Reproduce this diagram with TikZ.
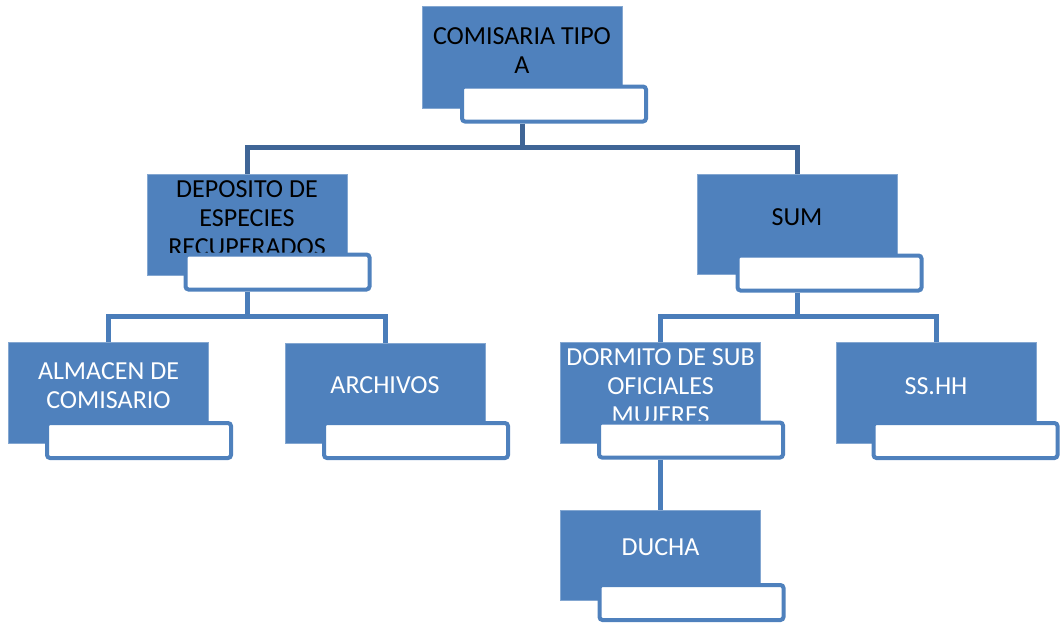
\documentclass[tikz,border=0pt]{standalone}
\usepackage{fontspec}
\setmainfont{Carlito}
\usetikzlibrary{backgrounds}
\definecolor{fillb}{HTML}{4F81BD}
\definecolor{conA}{HTML}{3F6596}
\definecolor{conB}{HTML}{4A7DBA}
\tikzset{
  rectbox/.style={fill=fillb, draw=fillb!70!white, line width=0.6pt, minimum width=200pt, inner sep=0pt},
  labbox/.style={fill=white, draw=fillb, line width=4pt, rounded corners=3pt, minimum width=184pt, minimum height=35pt, inner sep=0pt},
  txt/.style={align=center, font=\fontsize{26}{29}\selectfont, inner sep=0pt},
  conn1/.style={draw=conA, line width=5pt},
  conn2/.style={draw=conB, line width=5pt},
}
% #1 name, #2 cx, #3 cy, #4 height, #5 label cx, #6 label cy, #7 text, #8 text cy, #9 text colour
\newcommand\orgbox[9]{%
  \node[rectbox, minimum height=#4pt] (r-#1) at (#2,#3) {};
  \begin{scope}
    \clip (r-#1.north west) rectangle (r-#1.east |- 0,{#6-19.5});
    \node[txt, text=#9] (t-#1) at (#2,#8) {#7};
  \end{scope}
  \node[labbox] (l-#1) at (#5,#6) {};
}
\begin{document}
\begin{tikzpicture}[x=1pt,y=-1pt]
\useasboundingbox (0,0) rectangle (1060,624);
\orgbox{top}{522}{57}{102}{554}{104}{COMISARIA TIPO\\A}{50.5}{black}
\orgbox{dep}{247}{224.5}{101}{277.5}{272}{DEPOSITO DE\\ESPECIES\\RECUPERADOS}{218}{black}
\orgbox{sum}{797}{224}{100}{829.5}{273}{SUM}{217}{black}
\orgbox{alm}{108.5}{392.5}{101}{139}{440.5}{ALMACEN DE\\COMISARIO}{385.5}{white}
\orgbox{arc}{385}{393}{100}{416}{440.5}{ARCHIVOS}{385}{white}
\orgbox{dor}{660.5}{392.5}{101}{691}{440}{DORMITO DE SUB\\OFICIALES\\MUJERES}{386}{white}
\orgbox{ssh}{936}{392.5}{101}{965.5}{440.5}{SS.HH}{386}{white}
\orgbox{duc}{660.5}{555}{90}{691.5}{602.5}{DUCHA}{547}{white}
\coordinate (j1) at (522,147);
\coordinate (j2) at (247,316);
\coordinate (j3) at (797,316);
\begin{scope}[on background layer]
  \draw[conn1] (r-top |- l-top.south) -- (j1) -| (r-dep.north);
  \draw[conn1] (j1) -| (r-sum.north);
  \draw[conn2] (r-dep |- l-dep.south) -- (j2) -| (r-alm.north);
  \draw[conn2] (j2) -| (r-arc.north);
  \draw[conn2] (r-sum |- l-sum.south) -- (j3) -| (r-dor.north);
  \draw[conn2] (j3) -| (r-ssh.north);
  \draw[conn2] (r-dor |- l-dor.south) -- (r-duc.north);
\end{scope}
\end{tikzpicture}
\end{document}
